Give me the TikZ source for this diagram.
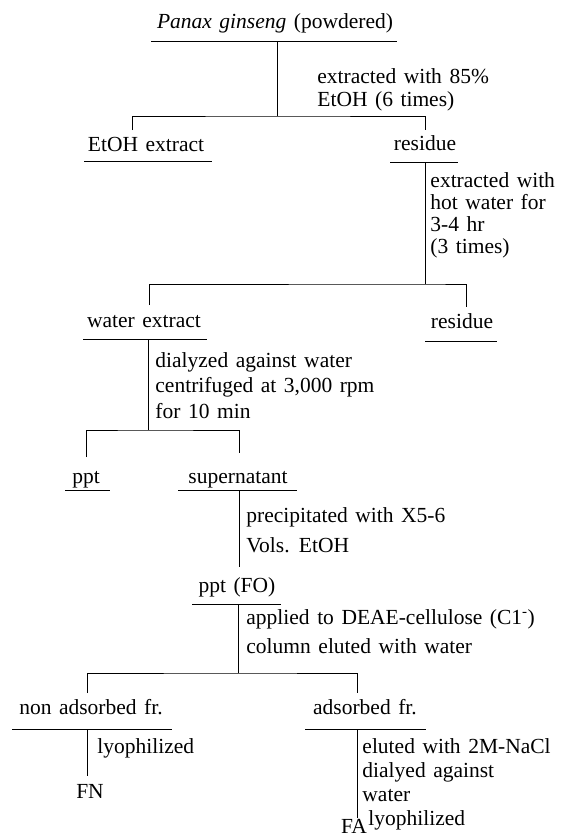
\documentclass[tikz,border=0pt]{standalone}
\usepackage{fontspec}
\setmainfont{Liberation Serif}[WordSpace=1.4]
\begin{document}
\begin{tikzpicture}[x=1pt,y=-1pt,line width=0.9pt,
  txt/.style={inner sep=0pt,font=\fontsize{21.5}{23}\selectfont,anchor=base},
  lbl/.style={inner sep=0pt,font=\fontsize{21.5}{#1}\selectfont,anchor=base west},
  lbl/.default=23]
\useasboundingbox[fill=white] (0,0) rectangle (562,838);

% ---------- items ----------
\node[txt] (pg)  at (275,28)  {\textit{Panax ginseng} (powdered)};
\node[txt] (eth) at (146,151) {EtOH extract};
\node[txt] (res1) at (425,150) {residue};
\node[txt] (wex) at (144,327) {water extract};
\node[txt] (res2) at (462,328) {residue};
\node[txt] (ppt) at (86,483)  {ppt};
\node[txt] (sup) at (238,483) {supernatant};
\node[txt] (fo)  at (237,592) {ppt (FO)};
\node[txt] (nad) at (91,714)  {non adsorbed fr.};
\node[txt] (ad)  at (365,714) {adsorbed fr.};
\node[txt] (fn)  at (90,798)  {FN};
\node[txt] (fa)  at (354,833) {FA};

% ---------- step labels ----------
\node[lbl] (s1) at (317,83) {\begin{tabular}[t]{@{}l@{}}extracted with 85\%\\EtOH (6 times)\end{tabular}};
\node[lbl=22] (s2) at (430,187) {\begin{tabular}[t]{@{}l@{}}extracted with\\hot water for\\3-4 hr\\(3 times)\end{tabular}};
\node[lbl=25.5] (s3) at (155,367) {\begin{tabular}[t]{@{}l@{}}dialyzed against water\\centrifuged at 3,000 rpm\\for 10 min\end{tabular}};
\node[lbl=30] (s4) at (246,522) {\begin{tabular}[t]{@{}l@{}}precipitated with X5-6\\Vols. EtOH\end{tabular}};
\node[lbl=29] (s5) at (246,624) {\begin{tabular}[t]{@{}l@{}}applied to DEAE-cellulose (C1\textsuperscript{-})\\column eluted with water\end{tabular}};
\node[lbl] (s6) at (97,753) {lyophilized};
\node[lbl=24] (s7) at (362,753) {\begin{tabular}[t]{@{}l@{}}eluted with 2M-NaCl\\dialyed against\\water\end{tabular}};
\node[lbl] (s8) at (368,825) {lyophilized};

% ---------- underlines ----------
\coordinate (pgL) at (151,41);  \coordinate (pgR) at (397,41);
\coordinate (ethL) at (84,161); \coordinate (ethR) at (212,161);
\coordinate (res1L) at (390,162); \coordinate (res1R) at (458,162);
\coordinate (wexL) at (83,339); \coordinate (wexR) at (207,339);
\coordinate (res2L) at (425,341); \coordinate (res2R) at (497,341);
\coordinate (pptL) at (65,490); \coordinate (pptR) at (110,490);
\coordinate (supL) at (178,490); \coordinate (supR) at (297,490);
\coordinate (foL) at (192,604); \coordinate (foR) at (281,604);
\coordinate (nadL) at (12,729); \coordinate (nadR) at (172,729);
\coordinate (adL) at (305,729); \coordinate (adR) at (426,729);
\foreach \u in {pg,eth,res1,wex,res2,ppt,sup,fo,nad,ad}
  \draw (\u L) -- (\u R);

% ---------- connectors ----------
% step 1
\coordinate (pgS) at (277,41);  \coordinate (b1) at (277,116);
\coordinate (b1L) at (132,130); \coordinate (b1R) at (425,130);
\draw (pgS) -- (b1);
\draw (b1L) |- (b1) -| (b1R);
% step 2
\coordinate (res1S) at (425,162); \coordinate (b2) at (425,284);
\coordinate (b2L) at (149,305);   \coordinate (b2R) at (466,307);
\draw (res1S) -- (b2);
\draw (b2L) |- (b2) -| (b2R);
% step 3
\coordinate (wexS) at (148,339); \coordinate (b3) at (148,430);
\coordinate (b3L) at (86,457);   \coordinate (b3R) at (239,453);
\draw (wexS) -- (b3);
\draw (b3L) |- (b3) -| (b3R);
% step 4
\coordinate (supS) at (239,490); \coordinate (foN) at (239,567);
\draw (supS) -- (foN);
% step 5
\coordinate (foS) at (238,604); \coordinate (b5) at (238,673);
\coordinate (b5L) at (87,693);  \coordinate (b5R) at (357,693);
\draw (foS) -- (b5);
\draw (b5L) |- (b5) -| (b5R);
% step 6
\coordinate (nadS) at (87,729); \coordinate (fnN) at (87,776);
\draw (nadS) -- (fnN);
% step 7
\coordinate (adS) at (357,729); \coordinate (faN) at (357,818);
\draw (adS) -- (faN);
\end{tikzpicture}
\end{document}
